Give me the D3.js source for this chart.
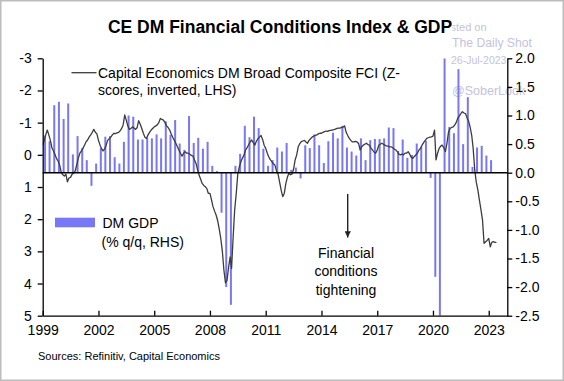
<!DOCTYPE html>
<html>
<head>
<meta charset="utf-8">
<script src="https://cdn.jsdelivr.net/npm/d3@7"></script>
<style>
    body { margin: 0; background: #fff; }
    #chart-area { width: 564px; height: 381px; }
    text { font-family: "Liberation Sans", Arial, sans-serif; }
    .axis text { font-size: 14px; fill: #000; }
    .axis path, .axis line { stroke: #000; stroke-width: 1.3; }
    .watermark { fill: #c3c3dd; }
</style>
</head>
<body>
<div id="chart-area"></div>
<script>

// DM GDP, % q/q, quarterly from 1999 Q1 (RHS)
let gdpStart = [1999, 0];
let gdpValues = [
    0.65, 0.55, 1.18, 1.24,   0.94, 1.21, 0.32, 0.64,   0.43, 0.22, -0.23, 0.16,
    0.43, 0.63, 0.64, 0.27,   0.16, 0.54, 1.00, 0.98,   0.58, 0.58, 0.61, 0.60,
    0.67, 0.60, 0.90, 0.66,   0.92, 0.51, 0.40, 0.99,   0.52, 0.61, 0.42, 0.54,
    0.12, 0.03, -0.70, -2.00, -2.31, 0.12, 0.33, 0.82,  0.62, 0.98, 0.78, 0.42,
    0.12, 0.22, 0.44, 0.37,   0.52, 0.05, 0.09, -0.10,  0.48, 0.43, 0.67, 0.48,
    0.17, 0.55, 0.70, 0.60,   0.82, 0.44, 0.37, 0.30,   0.60, 0.22, 0.57, 0.59,
    0.59, 0.60, 0.79, 0.78,   0.38, 0.58, 0.26, 0.31,   0.51, 0.45, 0.56, -0.09,
    -1.82, -2.50, 2.00, 0.80, 0.69, 1.81, 0.50, 1.32,   0.10, 0.44, 0.47, 0.30,
    0.22
];

// Capital Economics DM Broad Composite FCI, monthly from Jan 1999 (LHS, inverted)
let fciStart = [1999, 0];
let fciValues = [
    -0.30, -0.45, -0.62, -0.77, -0.62, -0.45, -0.22, -0.12, 0.00, 0.12, 0.20, 0.32,
    0.55, 0.62, 0.66, 0.60, 0.84, 0.72, 0.70, 0.60, 0.57, 0.50, 0.30, 0.10,
    -0.05, -0.12, -0.20, -0.30, -0.40, -0.46, -0.55, -0.62, -0.70, -0.79, -0.70, -0.65,
    -0.45, -0.30, -0.20, -0.12, -0.18, -0.30, -0.45, -0.50, -0.55, -0.62, -0.67, -0.66,
    -0.68, -0.70, -0.74, -0.82, -0.93, -1.24, -1.08, -0.90, -0.79, -0.82, -0.87, -0.83,
    -0.79, -0.85, -1.06, -0.95, -0.82, -0.67, -0.55, -0.51, -0.62, -0.70, -0.77, -0.82,
    -0.87, -0.90, -0.93, -1.00, -1.13, -1.10, -1.08, -1.00, -0.90, -0.85, -0.77, -0.65,
    -0.54, -0.45, -0.36, -0.25, -0.15, -0.05, 0.04, -0.05, -0.10, -0.05, -0.05, -0.02,
    0.02, 0.04, 0.15, 0.26, 0.45, 0.63, 0.75, 0.89, 0.95, 0.99, 1.05, 1.20,
    1.20, 1.40, 1.61, 1.75, 1.87, 2.05, 2.30, 2.60, 3.00, 3.58, 3.98, 3.90,
    3.50, 3.17, 3.53, 2.55, 1.71, 1.20, 0.60, 0.37, 0.21, 0.10, 0.01, -0.15,
    -0.22, -0.32, -0.40, -0.46, -0.38, -0.30, -0.42, -0.50, -0.55, -0.60, -0.48, -0.30,
    -0.20, -0.05, 0.06, 0.15, 0.21, 0.28, 0.32, 0.50, 0.60, 0.85, 1.10, 1.30,
    1.20, 0.89, 0.70, 0.57, 0.62, 0.60, 0.45, 0.16, 0.00, -0.25, -0.35, -0.41,
    -0.43, -0.45, -0.40, -0.36, -0.45, -0.50, -0.55, -0.58, -0.60, -0.62, -0.65, -0.67,
    -0.67, -0.70, -0.72, -0.74, -0.73, -0.75, -0.76, -0.77, -0.78, -0.80, -0.82, -0.83,
    -0.83, -0.85, -0.86, -0.90, -0.70, -0.60, -0.51, -0.45, -0.40, -0.40, -0.42, -0.40,
    -0.35, -0.15, -0.25, -0.30, -0.33, -0.36, -0.32, -0.30, -0.20, -0.15, -0.08, -0.05,
    -0.15, -0.30, -0.33, -0.36, -0.33, -0.30, -0.28, -0.27, -0.25, -0.25, -0.22, -0.18,
    -0.15, -0.10, -0.02, 0.00, -0.02, 0.00, -0.05, -0.05, -0.10, -0.02, 0.08, 0.11,
    0.05, 0.00, -0.05, -0.15, -0.20, -0.30, -0.38, -0.45, -0.51, -0.53, -0.55, -0.56,
    -0.58, -0.77, 0.16, -0.05, -0.20, -0.27, -0.30, -0.22, -0.10, -0.35, -0.70, -0.82,
    -0.85, -0.87, -0.92, -1.00, -1.13, -1.20, -1.28, -1.34, -1.30, -1.28, -1.15, -1.05,
    -0.86, -0.60, -0.20, 0.47, 0.85, 1.09, 1.40, 1.70, 2.03, 2.75, 2.70, 2.66,
    2.60, 2.86, 2.72, 2.70, 2.72, 2.72
];

let leftTicks = [-3, -2, -1, 0, 1, 2, 3, 4, 5];
let rightTicks = [2.0, 1.5, 1.0, 0.5, 0.0, -0.5, -1.0, -1.5, -2.0, -2.5];
let yearTicks = [1999, 2002, 2005, 2008, 2011, 2014, 2017, 2020, 2023];

let titleText = "CE DM Financial Conditions Index & GDP";
let lineLegend = ["Capital Economics DM Broad Composite FCI (Z-", "scores, inverted, LHS)"];
let barLegend = ["DM GDP", "(% q/q, RHS)"];
let noteText = ["Financial", "conditions", "tightening"];
let sourceText = "Sources: Refinitiv, Capital Economics";


class FciChart {
    constructor(_parentElement) {
        this.parentElement = _parentElement;
        this.initVis();
    }

    initVis() {
        let vis = this;

        vis.W = 564;
        vis.H = 381;
        vis.margin = {top: 58.3, right: 56.7, bottom: 65.3, left: 42.7};
        vis.width = vis.W - vis.margin.left - vis.margin.right;
        vis.height = vis.H - vis.margin.top - vis.margin.bottom;

        vis.svg = d3.select("#" + vis.parentElement).append("svg")
            .attr("width", vis.W)
            .attr("height", vis.H);

        // frame
        vis.svg.append("rect")
            .attr("x", 0.75).attr("y", 0.75)
            .attr("width", vis.W - 1.5).attr("height", vis.H - 1.5)
            .style("fill", "#fff")
            .style("stroke", "#bdbdbd")
            .style("stroke-width", 1.5);

        // watermark sits under the title box
        let wm = vis.svg.append("g").attr("class", "watermark");
        wm.append("text").attr("x", 437).attr("y", 31).style("font-size", "11px").text("Posted on");
        wm.append("text").attr("x", 452).attr("y", 47).style("font-size", "12.2px").text("The Daily Shot");
        wm.append("text").attr("x", 451).attr("y", 64).style("font-size", "10.5px").text("26-Jul-2023");
        wm.append("text").attr("x", 452).attr("y", 95).style("font-size", "12.5px").text("@SoberLook");

        let title = vis.svg.append("g");
        let titleBg = title.append("rect").style("fill", "#fff");
        let titleLabel = title.append("text")
            .attr("x", 280)
            .attr("y", 33)
            .style("text-anchor", "middle")
            .style("font-size", "17.5px")
            .style("font-weight", "bold")
            .text(titleText);
        let bb = titleLabel.node().getBBox();
        titleBg.attr("x", bb.x - 2).attr("y", bb.y)
            .attr("width", bb.width + 2).attr("height", bb.height);

        vis.g = vis.svg.append("g")
            .attr("transform", `translate(${vis.margin.left}, ${vis.margin.top})`);

        vis.x = d3.scaleTime()
            .domain([new Date(1999, 0, 1), new Date(2024, 0, 1)])
            .range([0, vis.width]);

        vis.yL = d3.scaleLinear()
            .domain([-3, 5])
            .range([0, vis.height]);

        vis.yR = d3.scaleLinear()
            .domain([-2.5, 2])
            .range([vis.height, 0]);

        vis.g.append("clipPath").attr("id", "plot-clip")
            .append("rect")
            .attr("width", vis.width).attr("height", vis.height);

        vis.wrangleData();
    }

    wrangleData() {
        let vis = this;

        vis.gdp = gdpValues.map((v, i) => ({
            date: new Date(gdpStart[0], gdpStart[1] + i * 3 + 1, 16),
            value: v
        }));

        vis.fci = fciValues.map((v, i) => ({
            date: new Date(fciStart[0], fciStart[1] + i, 1),
            value: v
        }));

        vis.updateVis();
    }

    updateVis() {
        let vis = this;

        let plot = vis.g.append("g").attr("clip-path", "url(#plot-clip)");

        plot.selectAll(".gdp-bar")
            .data(vis.gdp)
            .enter()
            .append("rect")
            .attr("class", "gdp-bar")
            .attr("x", d => vis.x(d.date) - 1)
            .attr("width", 2)
            .attr("y", d => Math.min(vis.yR(d.value), vis.yR(0)))
            .attr("height", d => Math.abs(vis.yR(d.value) - vis.yR(0)))
            .style("fill", "#7878f6");

        vis.g.append("line")
            .attr("x1", 0).attr("x2", vis.width)
            .attr("y1", vis.yR(0)).attr("y2", vis.yR(0))
            .style("stroke", "#000")
            .style("stroke-width", 1.5);

        let line = d3.line()
            .x(d => vis.x(d.date))
            .y(d => vis.yL(d.value));

        plot.append("path")
            .datum(vis.fci)
            .attr("d", line)
            .style("fill", "none")
            .style("stroke", "#3c3c3c")
            .style("stroke-width", 1.3)
            .style("stroke-linejoin", "round");

        // axes
        vis.g.append("g")
            .attr("class", "axis y-axis-left")
            .call(d3.axisLeft(vis.yL).tickValues(leftTicks).tickSizeInner(5).tickSizeOuter(0)
                .tickPadding(6).tickFormat(d => String(d)));

        vis.g.append("g")
            .attr("class", "axis y-axis-right")
            .attr("transform", `translate(${vis.width}, 0)`)
            .call(d3.axisRight(vis.yR).tickValues(rightTicks).tickSizeInner(5).tickSizeOuter(0)
                .tickPadding(3).tickFormat(d => d.toFixed(1)));

        vis.g.append("g")
            .attr("class", "axis x-axis")
            .attr("transform", `translate(0, ${vis.height})`)
            .call(d3.axisBottom(vis.x).tickValues(yearTicks.map(y => new Date(y, 0, 1)))
                .tickSizeInner(-5).tickSizeOuter(0).tickPadding(9)
                .tickFormat(d3.timeFormat("%Y")));

        // legend: line
        vis.svg.append("line")
            .attr("x1", 71.5).attr("x2", 96.5)
            .attr("y1", 72.7).attr("y2", 72.7)
            .style("stroke", "#3c3c3c")
            .style("stroke-width", 1.3);

        vis.svg.selectAll(".line-legend")
            .data(lineLegend)
            .enter()
            .append("text")
            .attr("class", "line-legend")
            .attr("x", 98)
            .attr("y", (d, i) => 77.7 + i * 17)
            .style("font-size", "14px")
            .text(d => d);

        // legend: bars
        vis.svg.append("rect")
            .attr("x", 55).attr("y", 217.7)
            .attr("width", 40).attr("height", 9.6)
            .style("fill", "#7878f6");

        vis.svg.selectAll(".bar-legend")
            .data(barLegend)
            .enter()
            .append("text")
            .attr("class", "bar-legend")
            .attr("x", (d, i) => i === 0 ? 102.5 : 101.5)
            .attr("y", (d, i) => 227.7 + i * 19)
            .style("font-size", "14px")
            .text(d => d);

        // tightening note
        vis.svg.append("defs").append("marker")
            .attr("id", "arrow-head")
            .attr("viewBox", "0 0 10 10")
            .attr("refX", 10).attr("refY", 5)
            .attr("markerWidth", 4.5).attr("markerHeight", 4.5)
            .attr("orient", "auto")
            .append("path")
            .attr("d", "M0,0 L10,5 L0,10 Z")
            .style("fill", "#222");

        vis.svg.append("line")
            .attr("x1", 347.7).attr("x2", 347.7)
            .attr("y1", 194).attr("y2", 237.5)
            .style("stroke", "#222")
            .style("stroke-width", 1.4)
            .attr("marker-end", "url(#arrow-head)");

        vis.svg.selectAll(".note")
            .data(noteText)
            .enter()
            .append("text")
            .attr("class", "note")
            .attr("x", 346)
            .attr("y", (d, i) => 257.7 + i * 18.5)
            .style("text-anchor", "middle")
            .style("font-size", "14px")
            .text(d => d);

        vis.svg.append("text")
            .attr("x", 38)
            .attr("y", 360)
            .style("font-size", "11px")
            .text(sourceText);
    }
}

new FciChart("chart-area");

</script>
</body>
</html>
